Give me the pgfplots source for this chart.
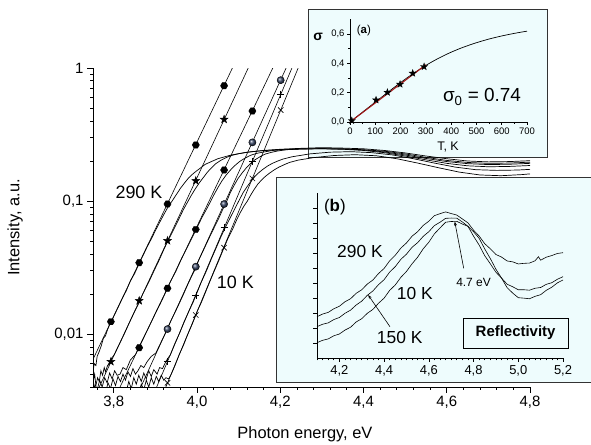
\documentclass[border=0pt]{standalone}
\usepackage{fontspec}
\setmainfont{Liberation Sans}
\usepackage{pgfplots}
\pgfplotsset{compat=1.18}
\usetikzlibrary{arrows.meta}
\pgfplotsset{/pgf/number format/assume math mode=true}
\definecolor{insetbg}{HTML}{EEFCFD}
\definecolor{fitred}{HTML}{A01818}
\definecolor{ballc}{HTML}{3C4A6A}

% filled hexagon and filled star marks
\pgfdeclareplotmark{hexa}{%
  \pgfpathmoveto{\pgfpoint{\pgfplotmarksize}{0pt}}%
  \pgfpathlineto{\pgfpoint{0.5\pgfplotmarksize}{0.866\pgfplotmarksize}}%
  \pgfpathlineto{\pgfpoint{-0.5\pgfplotmarksize}{0.866\pgfplotmarksize}}%
  \pgfpathlineto{\pgfpoint{-\pgfplotmarksize}{0pt}}%
  \pgfpathlineto{\pgfpoint{-0.5\pgfplotmarksize}{-0.866\pgfplotmarksize}}%
  \pgfpathlineto{\pgfpoint{0.5\pgfplotmarksize}{-0.866\pgfplotmarksize}}%
  \pgfpathclose\pgfusepathqfillstroke}
\pgfdeclareplotmark{fstar}{%
  \pgfpathmoveto{\pgfpoint{0pt}{\pgfplotmarksize}}%
  \pgfpathlineto{\pgfpoint{-0.235\pgfplotmarksize}{0.324\pgfplotmarksize}}%
  \pgfpathlineto{\pgfpoint{-0.951\pgfplotmarksize}{0.309\pgfplotmarksize}}%
  \pgfpathlineto{\pgfpoint{-0.380\pgfplotmarksize}{-0.124\pgfplotmarksize}}%
  \pgfpathlineto{\pgfpoint{-0.588\pgfplotmarksize}{-0.809\pgfplotmarksize}}%
  \pgfpathlineto{\pgfpoint{0pt}{-0.4\pgfplotmarksize}}%
  \pgfpathlineto{\pgfpoint{0.588\pgfplotmarksize}{-0.809\pgfplotmarksize}}%
  \pgfpathlineto{\pgfpoint{0.380\pgfplotmarksize}{-0.124\pgfplotmarksize}}%
  \pgfpathlineto{\pgfpoint{0.951\pgfplotmarksize}{0.309\pgfplotmarksize}}%
  \pgfpathlineto{\pgfpoint{0.235\pgfplotmarksize}{0.324\pgfplotmarksize}}%
  \pgfpathclose\pgfusepathqfillstroke}

\begin{document}
\begin{tikzpicture}
\useasboundingbox (0,0) rectangle (591bp,445bp);

% inset (a) background
\fill[insetbg] (308bp,288bp) rectangle (547bp,436bp);
\draw[black!80, line width=0.8bp] (308bp,288bp) rectangle (547bp,436bp);

% ---------------- main plot
\begin{axis}[
  at={(93bp,58bp)}, anchor=south west, scale only axis,
  width=437bp, height=319bp,
  ymode=log, xmin=3.75, xmax=4.8, ymin=0.004, ymax=1,
  axis x line*=bottom, axis y line*=left,
  axis line style={line width=1bp},
  tick align=outside, major tick length=6bp, minor tick length=3bp,
  tick style={black, line width=0.8bp},
  xtick={3.8,4.0,4.2,4.4,4.6,4.8},
  minor xtick={3.76,3.80,...,4.80},
  ytick={0.01,0.1,1}, yticklabels={{0,01},{0,1},{1}},
  minor ytick={0.004,0.005,0.006,0.007,0.008,0.009,0.02,0.03,0.04,0.05,0.06,0.07,0.08,0.09,0.2,0.3,0.4,0.5,0.6,0.7,0.8,0.9},
  xticklabel style={/pgf/number format/.cd, fixed, fixed zerofill, precision=1, use comma},
  tick label style={font=\fontsize{15}{18}\selectfont},
  xlabel={Photon energy, eV}, ylabel={Intensity, a.u.},
  label style={font=\fontsize{16.5}{19}\selectfont},
  xlabel style={at={(axis description cs:0.485,-0.147)}, anchor=center},
  ylabel style={at={(axis description cs:-0.178,0.5)}, anchor=center},
]
% experimental curves
\addplot[black, line width=0.7bp] coordinates {(3.750,0.0052) (3.753,0.0060) (3.757,0.0058) (3.760,0.0068) (3.765,0.0074) (3.770,0.0082) (3.775,0.0093) (3.780,0.0097) (3.785,0.0108) (3.790,0.0118) (3.795,0.0125) (3.800,0.0136) (3.810,0.0158) (3.820,0.0184) (3.830,0.0212) (3.840,0.0252) (3.850,0.0285) (3.860,0.0335) (3.870,0.0388) (3.880,0.0452) (3.890,0.0518) (3.900,0.0600) (3.910,0.0690) (3.920,0.0790) (3.930,0.0900) (3.940,0.1000) (3.950,0.1115) (3.960,0.1245) (3.970,0.1370) (3.980,0.1496) (3.990,0.1600) (4.000,0.1695) (4.020,0.189) (4.050,0.208) (4.080,0.221) (4.120,0.233) (4.160,0.240) (4.200,0.245) (4.250,0.249) (4.300,0.252) (4.350,0.250) (4.400,0.247) (4.450,0.240) (4.500,0.230) (4.550,0.218) (4.600,0.208) (4.650,0.200) (4.700,0.197) (4.750,0.198) (4.800,0.201)};
\addplot[black, line width=0.7bp] coordinates {(3.750,0.0043) (3.754,0.0050) (3.757,0.0041) (3.761,0.0047) (3.765,0.0044) (3.769,0.0053) (3.773,0.0049) (3.777,0.0056) (3.780,0.0052) (3.785,0.0058) (3.790,0.0061) (3.795,0.0066) (3.801,0.0070) (3.810,0.0080) (3.818,0.0090) (3.825,0.0100) (3.838,0.0123) (3.851,0.0150) (3.860,0.0170) (3.869,0.0198) (3.883,0.0242) (3.896,0.0296) (3.909,0.0360) (3.922,0.0445) (3.934,0.0530) (3.946,0.0630) (3.957,0.0740) (3.967,0.0860) (3.977,0.0980) (3.986,0.1100) (3.995,0.1225) (4.004,0.1350) (4.015,0.150) (4.025,0.165) (4.035,0.178) (4.045,0.191) (4.058,0.203) (4.071,0.213) (4.085,0.221) (4.100,0.227) (4.123,0.233) (4.150,0.238) (4.200,0.244) (4.250,0.247) (4.300,0.248) (4.350,0.247) (4.400,0.243) (4.450,0.237) (4.500,0.226) (4.550,0.213) (4.600,0.202) (4.650,0.195) (4.700,0.192) (4.750,0.193) (4.800,0.196)};
\addplot[black, line width=0.7bp] coordinates {(3.750,0.0036) (3.755,0.0042) (3.760,0.0038) (3.766,0.0045) (3.772,0.0040) (3.778,0.0047) (3.784,0.0043) (3.790,0.0051) (3.796,0.0046) (3.802,0.0053) (3.808,0.0049) (3.815,0.0050) (3.822,0.0056) (3.830,0.0054) (3.840,0.0064) (3.852,0.0070) (3.864,0.0084) (3.876,0.0100) (3.890,0.0123) (3.903,0.0150) (3.912,0.0170) (3.922,0.0198) (3.935,0.0245) (3.949,0.0296) (3.962,0.0365) (3.976,0.0445) (3.988,0.0530) (4.000,0.0630) (4.011,0.0745) (4.022,0.0860) (4.032,0.0985) (4.041,0.1120) (4.050,0.1260) (4.060,0.1420) (4.070,0.1570) (4.081,0.1720) (4.091,0.1850) (4.102,0.1980) (4.115,0.2100) (4.129,0.2210) (4.143,0.2280) (4.158,0.2330) (4.182,0.2400) (4.220,0.2440) (4.260,0.2465) (4.300,0.2470) (4.350,0.2460) (4.400,0.2420) (4.450,0.2340) (4.500,0.2220) (4.550,0.2090) (4.600,0.1980) (4.650,0.1910) (4.700,0.1880) (4.750,0.1890) (4.800,0.1920)};
\addplot[black, line width=0.7bp] coordinates {(3.780,0.0036) (3.786,0.0043) (3.792,0.0039) (3.798,0.0046) (3.804,0.0041) (3.810,0.0048) (3.816,0.0044) (3.822,0.0050) (3.828,0.0045) (3.834,0.0052) (3.840,0.0048) (3.846,0.0055) (3.852,0.0050) (3.858,0.0053) (3.865,0.0058) (3.872,0.0056) (3.880,0.0062) (3.890,0.0068) (3.901,0.0072) (3.912,0.0085) (3.923,0.0100) (3.936,0.0124) (3.949,0.0150) (3.958,0.0172) (3.967,0.0198) (3.980,0.0245) (3.993,0.0296) (4.005,0.0365) (4.018,0.0445) (4.030,0.0535) (4.041,0.0630) (4.052,0.0740) (4.062,0.0870) (4.071,0.0990) (4.080,0.1160) (4.089,0.1310) (4.098,0.1470) (4.108,0.1620) (4.118,0.1770) (4.128,0.1910) (4.138,0.2030) (4.151,0.2150) (4.164,0.2255) (4.178,0.2320) (4.191,0.2370) (4.214,0.2430) (4.250,0.2460) (4.300,0.2470) (4.350,0.2450) (4.400,0.2400) (4.450,0.2310) (4.500,0.2180) (4.550,0.2040) (4.600,0.1920) (4.650,0.1840) (4.700,0.1810) (4.750,0.1820) (4.800,0.1850)};
\addplot[black, line width=0.7bp] coordinates {(3.830,0.0037) (3.836,0.0044) (3.842,0.0039) (3.848,0.0047) (3.854,0.0042) (3.860,0.0049) (3.866,0.0044) (3.872,0.0051) (3.878,0.0046) (3.884,0.0053) (3.890,0.0048) (3.896,0.0054) (3.904,0.0050) (3.910,0.0056) (3.917,0.0055) (3.926,0.0063) (3.936,0.0070) (3.946,0.0084) (3.957,0.0100) (3.969,0.0124) (3.981,0.0150) (3.990,0.0172) (3.998,0.0198) (4.010,0.0245) (4.022,0.0296) (4.034,0.0365) (4.046,0.0445) (4.057,0.0535) (4.067,0.0625) (4.077,0.0720) (4.087,0.0830) (4.095,0.0930) (4.103,0.1040) (4.111,0.1160) (4.120,0.1280) (4.130,0.1410) (4.139,0.1530) (4.148,0.1630) (4.157,0.1720) (4.169,0.1830) (4.181,0.1920) (4.194,0.2000) (4.207,0.2070) (4.228,0.2150) (4.270,0.2260) (4.320,0.2330) (4.370,0.2350) (4.420,0.2310) (4.470,0.2220) (4.520,0.2080) (4.570,0.1930) (4.620,0.1800) (4.670,0.1720) (4.720,0.1700) (4.770,0.1710) (4.800,0.1730)};
\addplot[black, line width=0.7bp] coordinates {(3.860,0.0036) (3.866,0.0042) (3.872,0.0038) (3.878,0.0045) (3.884,0.0040) (3.890,0.0047) (3.896,0.0042) (3.902,0.0048) (3.908,0.0044) (3.914,0.0049) (3.920,0.0045) (3.925,0.0047) (3.932,0.0046) (3.938,0.0050) (3.947,0.0058) (3.957,0.0070) (3.967,0.0082) (3.978,0.0100) (3.989,0.0120) (4.001,0.0150) (4.010,0.0172) (4.018,0.0198) (4.030,0.0245) (4.041,0.0296) (4.053,0.0362) (4.064,0.0440) (4.075,0.0530) (4.086,0.0620) (4.095,0.0720) (4.104,0.0820) (4.113,0.0920) (4.121,0.1000) (4.129,0.1110) (4.137,0.1220) (4.146,0.1340) (4.156,0.1450) (4.165,0.1540) (4.174,0.1620) (4.186,0.1720) (4.197,0.1800) (4.210,0.1880) (4.222,0.1950) (4.243,0.2030) (4.280,0.2120) (4.330,0.2200) (4.380,0.2230) (4.430,0.2190) (4.480,0.2080) (4.530,0.1930) (4.580,0.1780) (4.630,0.1650) (4.680,0.1570) (4.730,0.1550) (4.780,0.1580) (4.800,0.1600)};
% straight Urbach fits
\addplot[black, line width=0.6bp] coordinates {(3.750,0.00646) (4.085,1)};
\addplot[black, line width=0.6bp] coordinates {(3.765,0.004) (4.123,1)};
\addplot[black, line width=0.6bp] coordinates {(3.815,0.004) (4.182,1)};
\addplot[black, line width=0.6bp] coordinates {(3.865,0.004) (4.214,1)};
\addplot[black, line width=0.6bp] coordinates {(3.903,0.004) (4.228,1)};
\addplot[black, line width=0.6bp] coordinates {(3.925,0.004) (4.243,1)};
% markers
\addplot[only marks, mark=hexa, mark size=3.6bp, black] coordinates {(3.793,0.0124) (3.861,0.0344) (3.929,0.0949) (3.997,0.264) (4.065,0.736)};
\addplot[only marks, mark=fstar, mark size=4.2bp, black] coordinates {(3.793,0.0062) (3.861,0.0178) (3.929,0.0503) (3.997,0.142) (4.065,0.411)};
\addplot[only marks, mark=hexa, mark size=3.6bp, black] coordinates {(3.861,0.0079) (3.929,0.0221) (3.997,0.0612) (4.065,0.171) (4.133,0.475)};
\addplot[only marks, mark=ball, mark size=3.6bp, ball color=ballc] coordinates {(3.929,0.0109) (3.997,0.0321) (4.065,0.0949) (4.133,0.276) (4.201,0.81)};
\addplot[only marks, mark=+, mark size=3.6bp, black, line width=0.6bp] coordinates {(3.929,0.0062) (3.997,0.0196) (4.065,0.0634) (4.133,0.198) (4.201,0.634)};
\addplot[only marks, mark=x, mark size=3.8bp, black, line width=0.6bp] coordinates {(3.929,0.0043) (3.997,0.0139) (4.065,0.0446) (4.133,0.148) (4.201,0.483)};
\node[font=\fontsize{18}{20}\selectfont] at (axis cs:3.8605,0.117) {290 K};
\node[font=\fontsize{18}{20}\selectfont] at (axis cs:4.092,0.0246) {10 K};
\end{axis}

% ---------------- inset (a)
\begin{axis}[
  at={(350bp,323bp)}, anchor=south west, scale only axis,
  width=177bp, height=102.7bp,
  xmin=0, xmax=700, ymin=0, ymax=0.7,
  axis x line*=bottom, axis y line*=left,
  axis line style={line width=0.7bp},
  tick align=outside, major tick length=3bp, minor tick length=1.8bp,
  tick style={black, line width=0.6bp},
  xtick={0,100,...,700}, minor x tick num=1,
  ytick={0,0.2,0.4,0.6}, yticklabels={{0,0},{0,2},{0,4},{0,6}}, minor y tick num=1,
  tick label style={font=\fontsize{9.5}{11}\selectfont},
  xticklabel style={yshift=1bp},
  yticklabel style={xshift=1bp},
  xlabel={T, K},
  xlabel style={font=\fontsize{12.5}{14}\selectfont, at={(axis description cs:0.554,-0.245)}, anchor=center},
  clip=false,
]
\addplot[black, line width=0.7bp, smooth] coordinates {(0,0) (50,0.0678) (100,0.1355) (150,0.203) (200,0.2688) (250,0.3304) (300,0.3858) (350,0.4342) (400,0.4758) (450,0.5108) (500,0.5403) (550,0.5656) (600,0.5864) (650,0.6041) (700,0.6192)};
\addplot[fitred, line width=1.1bp] coordinates {(0,0) (300,0.39)};
\addplot[only marks, mark=fstar, mark size=3.6bp, black] coordinates {(7,0.009) (103,0.15) (148,0.202) (198,0.257) (248,0.332) (293,0.377)};
\node[font=\bfseries\fontsize{14}{16}\selectfont] at (axis cs:-126,0.58) {σ};
\node[font=\fontsize{11.5}{13}\selectfont] at (axis cs:55,0.62) {(\textbf{a})};
\node[font=\fontsize{19}{21}\selectfont] at (axis cs:522,0.17) {σ\textsubscript{0} = 0.74};
\end{axis}

% ---------------- inset (b)
\fill[insetbg] (276bp,63bp) rectangle (596bp,268bp);
\draw[black!80, line width=0.8bp] (276bp,63bp) rectangle (596bp,268bp);
\begin{axis}[
  at={(317bp,87bp)}, anchor=south west, scale only axis,
  width=246bp, height=165bp,
  xmin=4.1, xmax=5.2, ymin=0, ymax=11,
  axis x line*=bottom, axis y line*=left,
  axis line style={line width=0.7bp},
  tick align=outside, major tick length=4bp, minor tick length=2.5bp,
  tick style={black, line width=0.6bp},
  xtick={4.2,4.4,4.6,4.8,5.0,5.2},
  minor xtick={4.1,4.125,...,5.2},
  ytick={1,2,...,10}, yticklabel=\empty,
  xticklabel style={/pgf/number format/.cd, fixed, fixed zerofill, precision=1, use comma},
  tick label style={font=\fontsize{13}{15}\selectfont},
  clip=false,
]
\addplot[black, line width=0.6bp] coordinates {(4.100,2.75) (4.125,2.93) (4.150,3.04) (4.175,3.28) (4.200,3.45) (4.225,3.75) (4.250,3.95) (4.275,4.31) (4.300,4.55) (4.325,4.93) (4.350,5.20) (4.375,5.63) (4.400,5.97) (4.425,6.48) (4.450,6.85) (4.475,7.33) (4.500,7.67) (4.525,8.12) (4.550,8.42) (4.575,8.84) (4.600,9.12) (4.625,9.49) (4.650,9.62) (4.675,9.74) (4.700,9.63) (4.725,9.53) (4.750,9.27) (4.775,9.01) (4.800,8.52) (4.825,8.13) (4.850,7.62) (4.875,7.28) (4.900,6.90) (4.925,6.73) (4.950,6.47) (4.975,6.41) (5.000,6.27) (5.025,6.31) (5.050,6.33) (5.075,6.48) (5.090,6.75) (5.100,6.52) (5.125,6.72) (5.150,6.83) (5.175,6.97) (5.200,7.02)};
\addplot[black, line width=0.6bp] coordinates {(4.100,2.09) (4.125,2.25) (4.150,2.34) (4.175,2.56) (4.200,2.70) (4.225,2.98) (4.250,3.19) (4.275,3.53) (4.300,3.79) (4.325,4.18) (4.350,4.47) (4.375,4.89) (4.400,5.22) (4.425,5.73) (4.450,6.09) (4.475,6.58) (4.500,6.92) (4.525,7.38) (4.550,7.69) (4.575,8.11) (4.600,8.42) (4.625,8.83) (4.650,9.05) (4.675,9.31) (4.700,9.33) (4.725,9.32) (4.750,9.07) (4.775,8.78) (4.800,8.12) (4.825,7.53) (4.850,6.82) (4.875,6.28) (4.900,5.72) (4.925,5.33) (4.950,4.92) (4.975,4.75) (5.000,4.55) (5.025,4.55) (5.050,4.52) (5.075,4.65) (5.100,4.70) (5.125,4.91) (5.150,5.02) (5.175,5.25) (5.200,5.42)};
\addplot[black, line width=0.6bp] coordinates {(4.100,1.02) (4.125,1.18) (4.150,1.27) (4.175,1.48) (4.200,1.60) (4.225,1.86) (4.250,2.05) (4.275,2.40) (4.300,2.62) (4.325,2.98) (4.350,3.24) (4.375,3.65) (4.400,3.99) (4.425,4.51) (4.450,4.87) (4.475,5.38) (4.500,5.77) (4.525,6.28) (4.550,6.72) (4.575,7.28) (4.600,7.72) (4.625,8.28) (4.650,8.67) (4.675,9.05) (4.700,9.10) (4.725,9.11) (4.750,8.93) (4.775,8.78) (4.800,8.42) (4.825,7.98) (4.850,7.27) (4.875,6.63) (4.900,5.92) (4.925,5.33) (4.950,4.69) (4.975,4.33) (5.000,4.02) (5.025,3.99) (5.050,3.95) (5.075,4.11) (5.100,4.22) (5.125,4.51) (5.150,4.72) (5.175,5.01) (5.200,5.20)};
\draw[-{Stealth[length=4bp,width=3bp]}, line width=0.6bp] (axis cs:4.426,2.09) -- (axis cs:4.329,4.2);
\draw[-{Stealth[length=4bp,width=3bp]}, line width=0.6bp] (axis cs:4.756,5.98) -- (axis cs:4.716,9.09);
\node[font=\fontsize{17}{19}\selectfont] at (axis cs:4.18,10.07) {(\textbf{b})};
\node[font=\fontsize{17.5}{19}\selectfont] at (axis cs:4.292,7.07) {290 K};
\node[font=\fontsize{17.5}{19}\selectfont] at (axis cs:4.5375,4.33) {10 K};
\node[font=\fontsize{17.5}{19}\selectfont] at (axis cs:4.47,1.4) {150 K};
\node[font=\fontsize{12}{14}\selectfont] at (axis cs:4.80,5.07) {4.7 eV};
\node[draw, fill=insetbg, line width=0.8bp, minimum width=105bp, minimum height=30bp, inner sep=0pt, font=\bfseries\fontsize{15}{17}\selectfont] at (axis cs:4.988,1.67) {Reflectivity};
\end{axis}
\end{tikzpicture}
\end{document}
